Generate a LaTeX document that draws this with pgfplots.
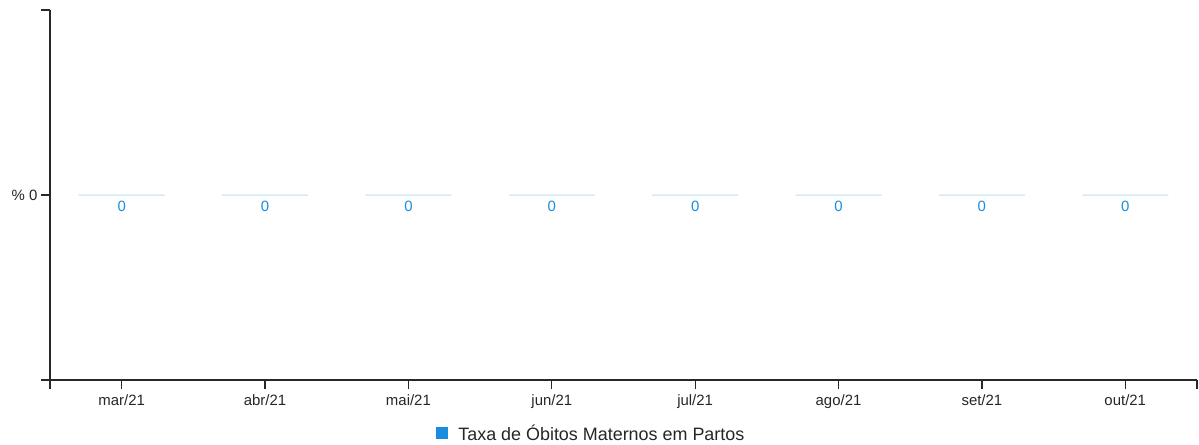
\documentclass[border=0pt]{standalone}
\usepackage{pgfplots}
\pgfplotsset{compat=1.18}
\usepackage{fontspec}
\setmainfont{Liberation Sans}
\definecolor{mainblue}{RGB}{26,140,222}
\definecolor{lightblue}{RGB}{190,222,244}
\definecolor{axisgray}{RGB}{40,40,40}
\begin{document}
\begin{tikzpicture}
\path[use as bounding box] (-50bp,-65bp) rectangle (1149bp,380bp);
\begin{axis}[
  at={(0bp,0bp)}, anchor=south west,
  scale only axis,
  width=1147bp, height=370bp,
  xmin=-0.5, xmax=7.5,
  ymin=-1, ymax=1,
  axis x line*=bottom,
  axis y line*=left,
  axis line style={axisgray, line width=1.4bp},
  every tick/.style={axisgray, line width=1.2bp},
  tick align=outside,
  major tick length=9bp,
  xtick={-0.5,0,1,2,3,4,5,6,7,7.5},
  xticklabels={,mar/21,abr/21,mai/21,jun/21,jul/21,ago/21,set/21,out/21,},
  ytick={-1,0,1},
  yticklabels={,\% 0,},
  tick label style={font=\fontsize{15}{17}\selectfont, text=black!85},
  xticklabel style={yshift=-2.5bp},
  /pgf/number format/assume math mode=true,
  ybar,
  bar width=0.6,
  nodes near coords,
  every node near coord/.append style={anchor=north, inner sep=0pt, yshift=-6bp, text=mainblue, font=\fontsize{15}{17}\selectfont},
  legend style={at={(0.472,-53bp)}, anchor=center, draw=none, fill=none, font=\fontsize{18}{21}\selectfont, text=black!85},
  legend image code/.code={\path[fill=mainblue, draw=none] (0bp,-6bp) rectangle (12bp,6bp); \path[draw=none, fill=none] (0bp,0bp) -- (20bp,0bp);},
  clip=false,
]
\addplot[fill=mainblue, draw=lightblue, line width=0.9bp] coordinates {
  (0,0) (1,0) (2,0) (3,0) (4,0) (5,0) (6,0) (7,0)
};
\addlegendentry{Taxa de Óbitos Maternos em Partos}
\end{axis}
\end{tikzpicture}
\end{document}
